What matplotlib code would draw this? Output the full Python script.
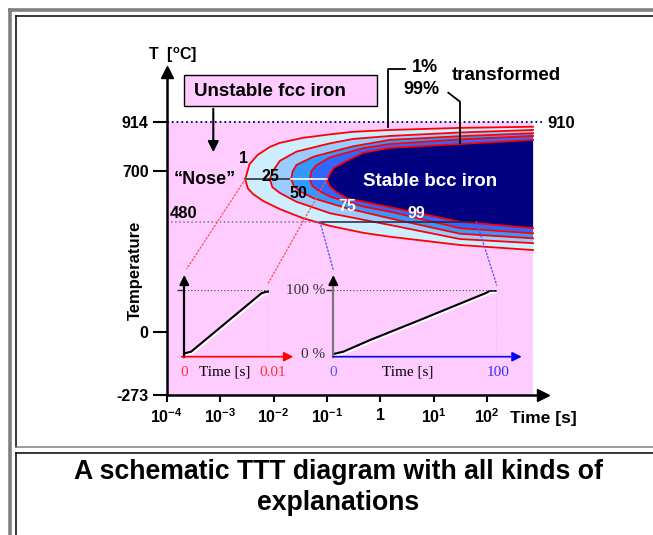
import matplotlib
matplotlib.use('Agg')
import numpy as np
import matplotlib.pyplot as plt
import matplotlib.patheffects as pe
from matplotlib.lines import Line2D
from matplotlib.patches import Rectangle, ConnectionPatch
from matplotlib.ticker import NullLocator

plt.rcParams['font.family'] = ['Liberation Sans', 'DejaVu Sans']
plt.rcParams['mathtext.fontset'] = 'custom'
plt.rcParams['mathtext.bf'] = 'Liberation Sans:bold'
plt.rcParams['mathtext.rm'] = 'Liberation Sans:bold'
plt.rcParams['mathtext.default'] = 'bf'

W, H = 653, 535

# TTT C-curves: log10(time [s]) and temperature [C], upper branch -> nose -> lower branch
logt_1 = [2.86, 1.49, 0.18, -0.51, -0.94, -1.44, -1.88, -2.07, -2.30, -2.45, -2.53,
          -2.48, -2.38, -2.19, -1.88, -1.44, -0.94, -0.32, 0.18, 1.49, 2.86]
temp_1 = [893, 888, 879, 871, 860, 845, 823, 805, 770, 730, 665,
          625, 600, 570, 535, 495, 462, 432, 415, 379, 357]
logt_25 = [2.86, 1.49, 0.18, -0.51, -0.94, -1.57, -1.88, -2.00, -2.07,
           -2.02, -1.88, -1.57, -0.94, 0.18, 1.49, 2.86]
temp_25 = [879, 868, 853, 840, 821, 785, 745, 705, 665,
           630, 605, 567, 517, 466, 405, 387]
logt_50 = [2.86, 1.49, 0.18, -0.51, -0.94, -1.25, -1.57, -1.64, -1.67,
           -1.62, -1.50, -1.25, -0.63, 0.18, 1.49, 2.86]
temp_50 = [865, 852, 836, 808, 782, 763, 727, 700, 665,
           635, 612, 582, 539, 495, 428, 408]
logt_75 = [2.86, 1.49, 0.18, -0.32, -0.94, -1.19, -1.29, -1.32,
           -1.27, -1.15, -0.94, -0.32, 0.18, 1.49, 2.86]
temp_75 = [853, 838, 818, 800, 760, 727, 700, 665,
           635, 615, 589, 546, 524, 452, 430]
logt_99 = [2.86, 1.49, 0.18, -0.32, -0.63, -0.88, -1.00,
           -0.95, -0.83, -0.63, 0.18, 1.49, 2.86]
temp_99 = [836, 818, 801, 780, 745, 713, 665,
           635, 610, 582, 543, 480, 452]

curve_logt = [logt_1, logt_25, logt_50, logt_75, logt_99]
curve_temp = [temp_1, temp_25, temp_50, temp_75, temp_99]
curve_names = ['1', '25', '50', '75', '99']
band_colors = ['#cceeff', '#99ccff', '#3399ff', '#3366ff', '#000080']
label_logt = [-2.57, -2.06, -1.54, -0.62, 0.68]
label_temp = [757, 675, 601, 546, 514]
label_colors = ['black', 'black', 'black', 'white', 'white']

y_ticks = [-273, 0, 700, 914]
x_tick_exp = [-4, -3, -2, -1, 0, 1, 2]
x_tick_labels = ['10$^{-4}$', '10$^{-3}$', '10$^{-2}$', '10$^{-1}$', '1', '10$^{1}$', '10$^{2}$']

# transformation vs. time in the two insets
fast_t = [0, 0.0008, 0.0091, 0.0097, 0.01]
fast_f = [5, 7.5, 95, 97.5, 97.5]
slow_t = [0, 6.1, 22.5, 53, 93.9, 95.9, 100]
slow_f = [4, 7.5, 25, 55, 96, 99, 99]


def fx(x, y):
    return x / W, 1 - y / H


def fig_line(xs, ys, **kw):
    fig.add_artist(Line2D([x / W for x in xs], [1 - y / H for y in ys],
                          transform=fig.transFigure, **kw))


fig = plt.figure(figsize=(W / 100, H / 100), dpi=100)

# page frame
fig_line([9.5, 9.5], [9.5, 535], color='#808080', lw=2.6)
fig_line([9.5, 653], [9.5, 9.5], color='#808080', lw=2.6)
fig_line([16, 16], [16, 447], color='black', lw=1.1)
fig_line([16, 653], [16, 16], color='black', lw=1.1)
fig_line([16, 653], [447, 447], color='#808080', lw=1.1)
fig_line([16, 653], [453, 453], color='black', lw=1.1)
fig_line([16, 16], [453, 535], color='black', lw=1.1)

# main TTT axes
ax = fig.add_axes([166.7 / W, 1 - 395 / H, 376.5 / W, 323 / H])
ax.set_xscale('log')
ax.set_xlim(1e-4, 10 ** 3.05)
ax.set_ylim(-273, 1131)
ax.patch.set_alpha(0)

ax.fill_between([1e-4, 10 ** 2.86], -273, 914, color='#ffccff', lw=0, zorder=0)
for lt, tp, col in zip(curve_logt, curve_temp, band_colors):
    ax.fill(10 ** np.array(lt), tp, color=col, lw=0, zorder=1)
for lt, tp in zip(curve_logt, curve_temp):
    ax.plot(10 ** np.array(lt), tp, color='red', lw=1.3, zorder=2)
for name, lt, tp, col in zip(curve_names, label_logt, label_temp, label_colors):
    ax.text(10 ** lt, tp, name, color=col, fontsize=11.5, fontweight='bold',
            ha='center', va='center', zorder=4)

ax.plot([1e-4, 10 ** 3.02], [914, 914], ls=':', color='#000066', lw=1.3, clip_on=False)
ax.plot([1e-4, 10 ** -1.13], [480, 480], ls=':', color='#777799', lw=1.1)
ax.plot([10 ** -1.13, 10 ** 1.80], [480, 480], color='#222244', lw=1.1, zorder=3)
ax.plot([10 ** logt_1[10], 10 ** logt_50[8]], [665, 665], color='#333333', lw=1.2, zorder=3)
ax.plot([10 ** logt_50[8], 10 ** logt_99[6]], [665, 665], color='white', lw=1.2, zorder=3)
ax.text(10 ** 0.93, 657, 'Stable bcc iron', color='white', fontsize=13.5,
        fontweight='bold', ha='center', va='center', zorder=4)

for s in ['top', 'right']:
    ax.spines[s].set_visible(False)
for s in ['left', 'bottom']:
    ax.spines[s].set_linewidth(1.8)
ax.plot(0, 1, marker='^', color='k', ms=9, transform=ax.transAxes, clip_on=False)
ax.plot(1, 0, marker='>', color='k', ms=9, transform=ax.transAxes, clip_on=False)

ax.set_yticks(y_ticks, [str(v) for v in y_ticks])
ax.set_xticks([10.0 ** e for e in x_tick_exp], x_tick_labels)
ax.xaxis.set_minor_locator(NullLocator())
ax.tick_params(axis='y', length=10, width=1.5, pad=3, labelsize=11.5)
ax.tick_params(axis='x', length=5, width=1.5, pad=4, labelsize=11.5)
for lab in ax.get_xticklabels() + ax.get_yticklabels():
    lab.set_fontweight('bold')

# texts and annotations on the main panel
fig.text(*fx(135, 270), 'Temperature', rotation=90, ha='center', va='center',
         fontsize=12, fontweight='bold')
fig.text(*fx(173, 55), 'T  [$^o$C]', ha='center', va='center', fontsize=11.5, fontweight='bold')
fig.text(*fx(184, 213), '480', ha='center', va='center', fontsize=12, fontweight='bold')
fig.text(*fx(561, 124), '910', ha='center', va='center', fontsize=12, fontweight='bold')
fig.text(*fx(543, 418), 'Time [s]', ha='center', va='center', fontsize=12.5, fontweight='bold')
fig.text(*fx(205, 180), '\u201cNose\u201d', ha='center', va='center', fontsize=13, fontweight='bold')

fig.add_artist(Rectangle(fx(184.3, 106), 192.4 / W, 31 / H, transform=fig.transFigure,
                         facecolor='#ffccff', edgecolor='black', lw=1))
fig.text(*fx(194, 91), 'Unstable fcc iron', ha='left', va='center', fontsize=13.5, fontweight='bold')
fig.add_artist(matplotlib.patches.FancyArrowPatch(fx(213.3, 106), fx(213.3, 155),
                                                  transform=fig.transFigure, arrowstyle='-|>',
                                                  mutation_scale=16, color='black', lw=1.5))

fig.text(*fx(425, 68), '1%', ha='center', va='center', fontsize=13, fontweight='bold')
fig.text(*fx(421.7, 89), '99%', ha='center', va='center', fontsize=13, fontweight='bold')
fig.text(*fx(506.7, 75), 'transformed', ha='center', va='center', fontsize=13.5, fontweight='bold')
fig_line([405, 388.3, 388.3], [69.3, 69.3, 126.7], color='black', lw=1.3)
fig_line([448.3, 460, 460], [92.7, 101.7, 143.3], color='black', lw=1.3)

# insets: fraction transformed vs. time
serif = ['Liberation Serif', 'DejaVu Serif']
ax1 = fig.add_axes([184.3 / W, 1 - 356.7 / H, 84.7 / W, 66.7 / H])
ax2 = fig.add_axes([333.3 / W, 1 - 356.7 / H, 163.4 / W, 66.7 / H])
ax1.set_xlim(0, 0.01)
ax2.set_xlim(0, 100)
for a, tt, ff, xcol, vcol in [(ax1, fast_t, fast_f, 'red', 'black'),
                              (ax2, slow_t, slow_f, '#0000ff', '#777777')]:
    a.set_ylim(0, 100)
    a.patch.set_alpha(0)
    for s in a.spines.values():
        s.set_visible(False)
    a.plot(tt, ff, color='black', lw=1.5, solid_capstyle='butt',
           path_effects=[pe.SimpleLineShadow(offset=(1, -1.2), shadow_color='white', alpha=1),
                         pe.Normal()])
    xmax = a.get_xlim()[1]
    a.plot([0, xmax], [100, 100], ls=':', color='#555555', lw=0.9)
    a.plot([xmax, xmax], [0, 100], ls=':', color='#555555', lw=0.9)
    a.plot([0, 0], [0, 110], color=vcol, lw=1.6, clip_on=False)
    a.annotate('', xy=(0, 1.225), xytext=(0, 1.08), xycoords='axes fraction',
               arrowprops=dict(arrowstyle='-|>', color='black', lw=1.5,
                               mutation_scale=14, shrinkA=0, shrinkB=0))
    a.set_xticks([])
    a.set_yticks([100])
    a.tick_params(axis='y', length=5, width=1, color='#333333', labelleft=False)

ax1.annotate('', xy=(1.287, 0), xytext=(-0.03, 0), xycoords='axes fraction',
             arrowprops=dict(arrowstyle='-|>', color='red', lw=1.2,
                             mutation_scale=14, shrinkA=0, shrinkB=0))
ax2.annotate('', xy=(1.153, 0), xytext=(0, 0), xycoords='axes fraction',
             arrowprops=dict(arrowstyle='-|>', color='#0000ff', lw=1.2,
                             mutation_scale=14, shrinkA=0, shrinkB=0))

tr1 = ax1.get_xaxis_transform()
tr2 = ax2.get_xaxis_transform()
ax1.text(0, -0.23, '0', transform=tr1, color='#ff3333', family=serif, fontsize=11, ha='center', va='center')
ax1.text(0.0104, -0.23, '0.01', transform=tr1, color='#ff3333', family=serif, fontsize=11, ha='center', va='center')
ax1.text(0.0048, -0.23, 'Time [s]', transform=tr1, color='black', family=serif, fontsize=11, ha='center', va='center')
ax2.text(0, -0.23, '0', transform=tr2, color='#5555ff', family=serif, fontsize=11, ha='center', va='center')
ax2.text(101, -0.23, '100', transform=tr2, color='#3333ff', family=serif, fontsize=11, ha='center', va='center')
ax2.text(45.7, -0.23, 'Time [s]', transform=tr2, color='black', family=serif, fontsize=11, ha='center', va='center')
ax2.text(-5, 100, '100 %', color='#333333', family=serif, fontsize=11, ha='right', va='center')
ax2.text(-5, 3, '0 %', color='#333333', family=serif, fontsize=11, ha='right', va='center')

# dotted connectors from the TTT diagram to the insets
for xa, ya, axb, xb, yb, col in [(10 ** logt_1[10], 665, ax1, 0.0003, 132, '#ff5555'),
                                 (10 ** logt_99[6], 665, ax1, 0.0099, 110, '#ff5555'),
                                 (10 ** -1.13, 480, ax2, 0, 130, '#5555ff'),
                                 (10 ** 1.80, 480, ax2, 100, 107.5, '#5555ff')]:
    fig.add_artist(ConnectionPatch(xyA=(xa, ya), coordsA=ax.transData,
                                   xyB=(xb, yb), coordsB=axb.transData,
                                   ls=':', color=col, lw=1.0))

# caption
fig.text(*fx(338, 479), 'A schematic TTT diagram with all kinds of', ha='center', va='baseline',
         fontsize=19.2, fontweight='bold')
fig.text(*fx(338, 510), 'explanations', ha='center', va='baseline', fontsize=19.2, fontweight='bold')

fig.savefig('out.png', dpi=100)
